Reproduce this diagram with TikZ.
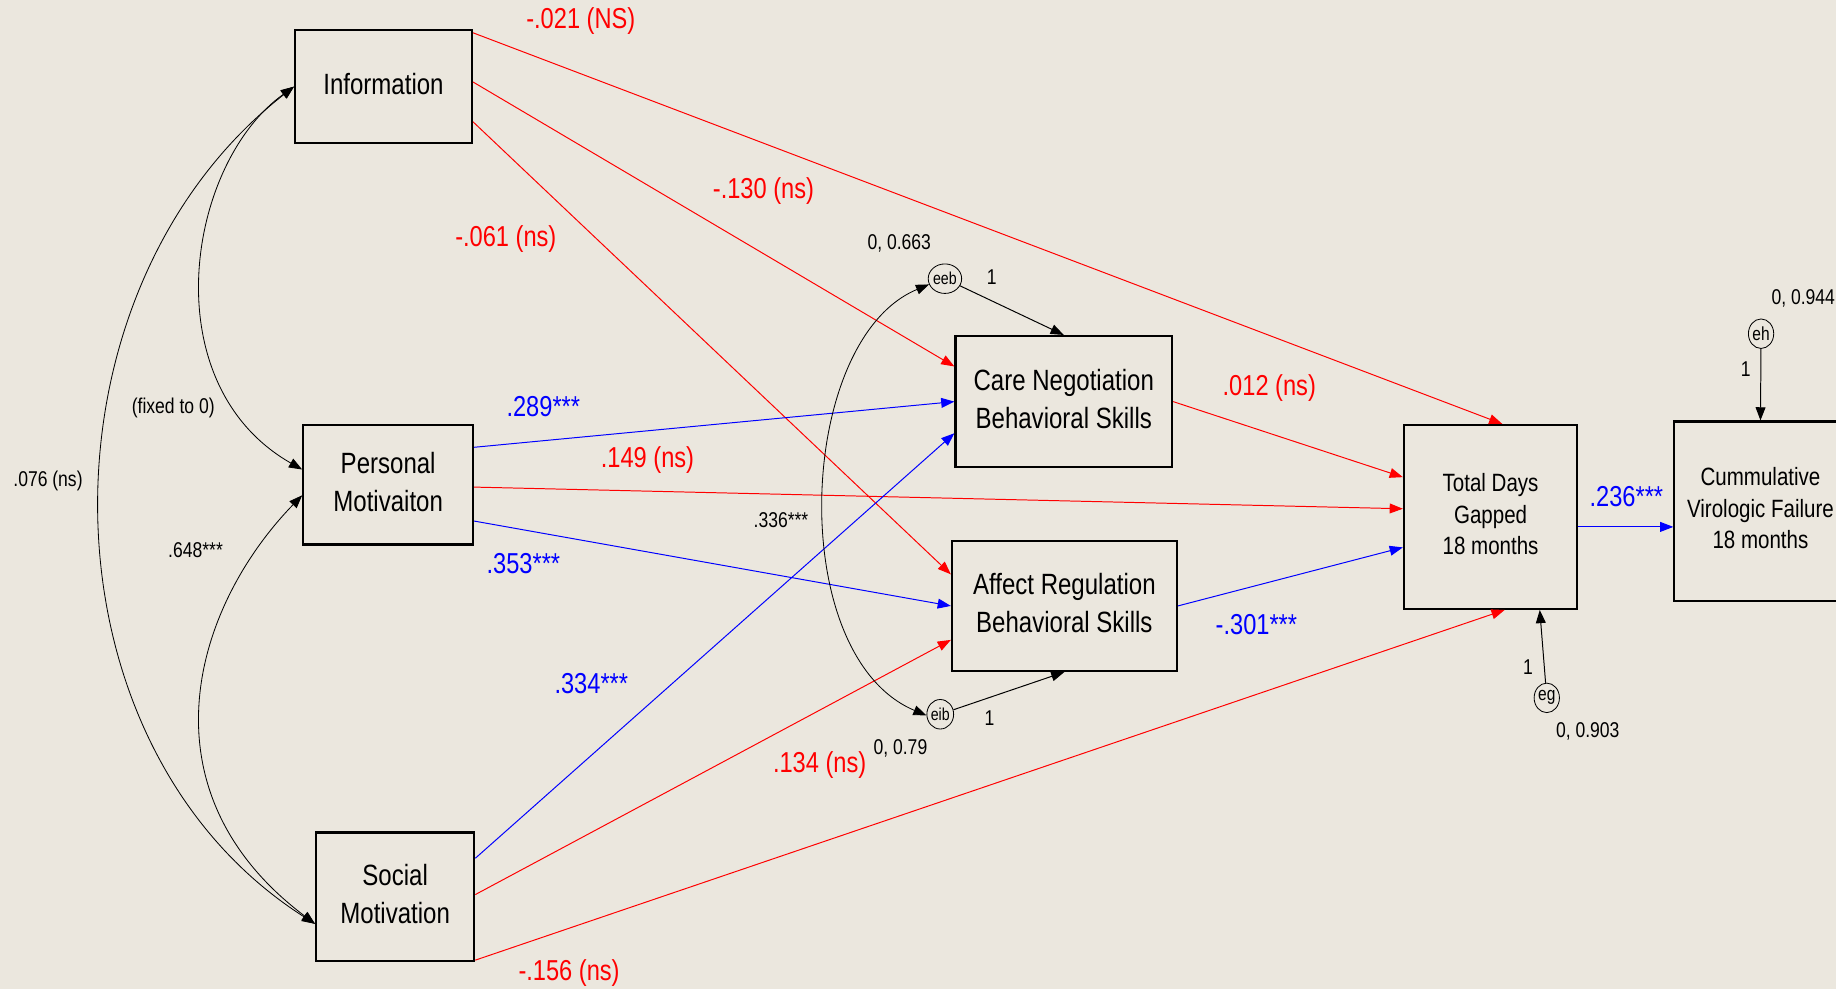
\documentclass[tikz,border=0pt]{standalone}
\usepackage{fontspec}
\setmainfont{Liberation Sans}[FakeStretch=0.82]
\usetikzlibrary{arrows.meta,calc,shapes.geometric}
\definecolor{paper}{RGB}{235,231,222}
\definecolor{pathred}{RGB}{255,0,0}
\definecolor{pathblue}{RGB}{0,0,255}

\begin{document}
\begin{tikzpicture}[x=0.025cm,y=-0.025cm,
  box/.style={draw=black, line width=1.3pt, rectangle, align=center, inner sep=0pt,
    text depth=3.6pt, font=\fontsize{17.8}{23}\selectfont},
  outcome/.style={box, font=\fontsize{15.2}{19.3}\selectfont},
  err/.style={draw=black, line width=0.5pt, ellipse, minimum width=0.54cm, minimum height=0.63cm,
    inner sep=0pt, font=\fontsize{10.5}{11}\selectfont},
  bigerr/.style={err, font=\fontsize{11.5}{12}\selectfont},
  tipped/.style={-{Triangle[length=8pt,width=6pt]}},
  redpath/.style={tipped, draw=pathred, line width=0.6pt},
  bluepath/.style={tipped, draw=pathblue, line width=0.6pt},
  blackpath/.style={tipped, draw=black, line width=0.6pt},
  cov/.style={{Triangle[length=8pt,width=6pt]}-{Triangle[length=8pt,width=6pt]}, draw=black, line width=0.5pt},
  coef/.style={inner sep=0pt, font=\fontsize{17.5}{20}\selectfont},
  redcoef/.style={coef, text=pathred},
  bluecoef/.style={coef, text=pathblue},
  note/.style={inner sep=0pt, font=\fontsize{13}{15}\selectfont}
]
\useasboundingbox (0,0) rectangle (1568,845);
\fill[paper] (0,0) rectangle (1568,845);
\clip (0,0) rectangle (1568,845);

% exogenous predictors
\node[box, minimum width=3.775cm, minimum height=2.4cm] (info) at (327.5,74) {Information};
\node[box, minimum width=3.625cm, minimum height=2.55cm] (pers) at (331.5,414) {Personal\\Motivaiton};
\node[box, minimum width=3.375cm, minimum height=2.75cm] (soc) at (337.5,766) {Social\\Motivation};

% mediators
\node[box, minimum width=4.625cm, minimum height=2.8cm] (care) at (908.5,343) {Care Negotiation\\Behavioral Skills};
\node[box, minimum width=4.8cm, minimum height=2.775cm] (affect) at (909,517.5) {Affect Regulation\\Behavioral Skills};

% outcomes
\node[outcome, minimum width=3.7cm, minimum height=3.925cm] (total) at (1273,441.5) {Total Days\\Gapped\\18 months};
\node[outcome, minimum width=3.675cm, minimum height=3.825cm] (cum) at (1503.5,436.5) {Cummulative\\Virologic Failure\\18 months};

% error terms
\node[err] (eeb) at (807,238) {eeb};
\node[err] (eib) at (803,610) {eib};
\node[bigerr] (eh) at (1504,285) {eh};
\node[bigerr] (eg) at (1321,596) {eg};

% non-significant paths
\draw[redpath] ($(info.east)+(0,-46)$) -- ($(total.north)+(10,0)$);
\draw[redpath] ($(info.east)+(0,-4)$) -- ($(care.west)+(0,-30)$);
\draw[redpath] ($(info.east)+(0,30)$) -- ($(affect.west)+(0,-27)$);
\draw[redpath] ($(pers.east)+(0,2)$) -- ($(total.west)+(0,-7)$);
\draw[redpath] (care.east) -- ($(total.west)+(0,-34)$);
\draw[redpath] ($(soc.east)+(0,-2)$) -- ($(affect.west)+(0,29)$);
\draw[redpath] ($(soc.east)+(0,54)$) -- ($(total.south)+(12,0)$);

% significant paths
\draw[bluepath] ($(pers.east)+(0,-32)$) -- (care.west);
\draw[bluepath] ($(pers.east)+(0,31)$) -- (affect.west);
\draw[bluepath] ($(soc.east)+(0,-33)$) -- ($(care.west)+(0,27)$);
\draw[bluepath] (affect.east) -- ($(total.west)+(0,26)$);
\draw[bluepath] ($(total.east)+(0,8.5)$) -- ($(cum.west)+(0,13.5)$);

% residual paths
\draw[blackpath] (eeb) -- (care.north);
\draw[blackpath] (eib) -- (affect.south);
\draw[blackpath] (eh) -- (cum.north);
\draw[blackpath] (eg) -- ($(total.south)+(42,0)$);

% covariances
\draw[cov] (info.west) .. controls +(-92,66) and +(-128,-73) .. ($(pers.west)+(0,-13)$);
\draw[cov] ($(pers.west)+(0,9)$) .. controls +(-94,97) and +(-150,-113) .. ($(soc.west)+(0,23)$);
\draw[cov] (info.west) .. controls +(-225,176) and +(-240,-153) .. ($(soc.west)+(0,23)$);
\draw[cov] (eeb.200) .. controls (680,290) and (670,560) .. (eib.185);

% coefficients
\node[redcoef] (c1) at (496,18) {-.021 (NS)};
\node[redcoef] (c2) at (652,163) {-.130 (ns)};
\node[redcoef] (c3) at (432,204) {-.061 (ns)};
\node[bluecoef] (c4) at (464,347) {.289***};
\node[redcoef] (c5) at (553,393) {.149 (ns)};
\node[bluecoef] (c6) at (447,481) {.353***};
\node[bluecoef] (c7) at (505,584) {.334***};
\node[redcoef] (c8) at (700,653) {.134 (ns)};
\node[redcoef] (c9) at (486,831) {-.156 (ns)};
\node[redcoef] (c10) at (1084,331) {.012 (ns)};
\node[bluecoef] (c11) at (1073,533) {-.301***};
\node[bluecoef] (c12) at (1389,424) {.236***};

\node[note] (n1) at (148,348) {(fixed to 0)};
\node[note] (n2) at (41,411) {.076 (ns)};
\node[note] (n3) at (167,470) {.648***};
\node[note] (n4) at (667,444) {.336***};
\node[note] (v1) at (768,208) {0, 0.663};
\node[note] (v2) at (769,639) {0, 0.79};
\node[note] (v3) at (1540,255) {0, 0.944};
\node[note] (v4) at (1356,625) {0, 0.903};
\node[note] (w1) at (847,237) {1};
\node[note] (w2) at (845,613) {1};
\node[note] (w3) at (1491,315) {1};
\node[note] (w4) at (1305,570) {1};
\end{tikzpicture}
\end{document}
